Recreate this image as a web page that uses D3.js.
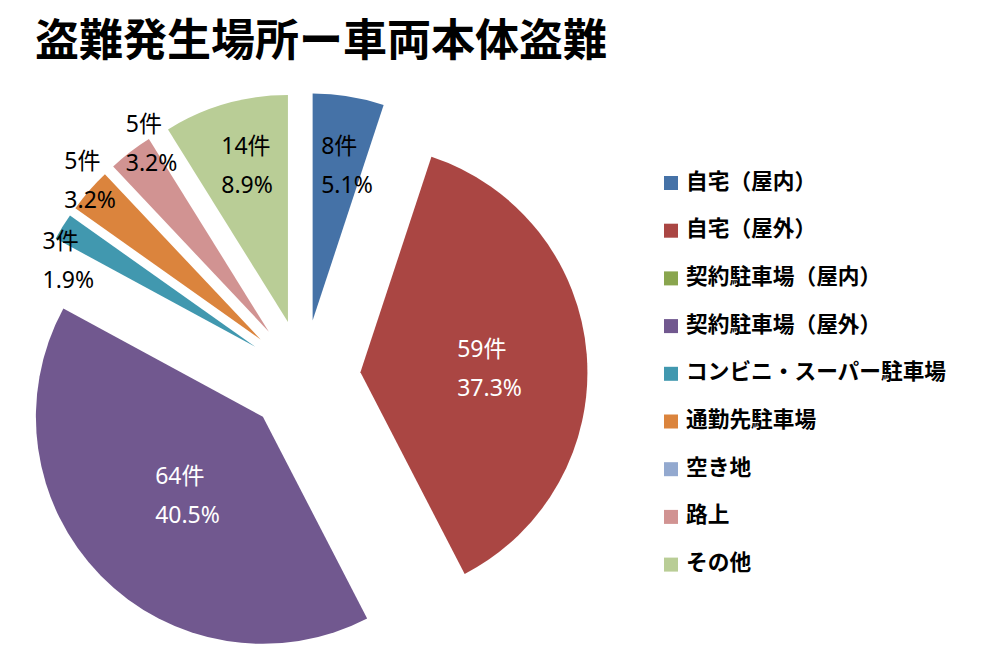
<!DOCTYPE html>
<html><head><meta charset="utf-8">
<script src="https://cdn.jsdelivr.net/npm/d3@7"></script>
<style>
html,body{margin:0;padding:0;background:#fff;}
svg{display:block;}
</style></head>
<body>
<svg id="chart" width="1000" height="666"></svg>
<script>
const title = "盗難発生場所ー車両本体盗難";
const categories = ["自宅（屋内）","自宅（屋外）","契約駐車場（屋内）","契約駐車場（屋外）","コンビニ・スーパー駐車場","通勤先駐車場","空き地","路上","その他"];
const counts = [8, 59, 0, 64, 3, 5, 0, 5, 14];
const percentLabels = ["5.1%","37.3%","0.0%","40.5%","1.9%","3.2%","0.0%","3.2%","8.9%"];
const colors = ["#4572A7","#AA4643","#89A54E","#71588F","#4198AF","#DB843D","#93A9CF","#D19392","#B9CD96"];

// layout config (not data)
const labelRadiusFactor = [0.95, 0.82, 0, 0.73, 1.157, 1.28, 0, 1.227, 0.965];
const labelAngleNudge = [2.5, 1.9, 0, -1.1, -5.5, 1.7, 0, 4.5, 1];
const labelWhite = [false, true, false, true, false, false, false, false, false];

const svg = d3.select("#chart");
const cx = 303.6, cy = 376.9, R = 227, explode = 57;

svg.append("text")
  .attr("x", 35).attr("y", 56)
  .attr("font-family", "'Noto Sans CJK JP', sans-serif")
  .attr("font-weight", "bold")
  .attr("font-size", 44)
  .attr("fill", "#000")
  .text(title);

const data = categories.map((c, i) => ({cat: c, v: counts[i], pct: percentLabels[i], i}));
const pie = d3.pie().value(d => d.v).sort(null).startAngle(0).endAngle(2*Math.PI);
const arcs = pie(data);
const arcGen = d3.arc().innerRadius(0).outerRadius(R);

const g = svg.append("g").attr("transform", `translate(${cx},${cy})`);

arcs.filter(a => a.data.v > 0).forEach(a => {
  const mid = (a.startAngle + a.endAngle) / 2;
  const dx = Math.sin(mid) * explode, dy = -Math.cos(mid) * explode;
  g.append("path")
    .attr("d", arcGen(a))
    .attr("transform", `translate(${dx},${dy})`)
    .attr("fill", colors[a.data.i]);
});

const fs = 23, lineGap = 39;
arcs.filter(a => a.data.v > 0).forEach(a => {
  const i = a.data.i;
  const mid = (a.startAngle + a.endAngle) / 2 + labelAngleNudge[i] * Math.PI / 180;
  const r = labelRadiusFactor[i] * R;
  const lx = Math.sin(mid) * r, ly = -Math.cos(mid) * r;
  const t = g.append("text")
    .attr("font-family", "'Noto Sans', 'Noto Sans CJK JP', sans-serif")
    .attr("font-size", fs)
    .attr("fill", labelWhite[i] ? "#fff" : "#000");
  const t1 = t.append("tspan").text(a.data.v + "件");
  const t2 = t.append("tspan").text(a.data.pct);
  const w = Math.max(t1.node().getComputedTextLength(), t2.node().getComputedTextLength());
  const left = lx - w / 2;
  const b1 = ly - lineGap / 2 + fs * 0.36;
  t1.attr("x", left).attr("y", b1);
  t2.attr("x", left).attr("y", b1 + lineGap);
});

// legend
const legend = svg.append("g");
const lgX = 664, lgY0 = 176, lgStep = 47.7;
categories.forEach((c, i) => {
  const y = lgY0 + i * lgStep;
  legend.append("rect").attr("x", lgX).attr("y", y).attr("width", 14).attr("height", 14).attr("fill", colors[i]);
  legend.append("text")
    .attr("x", 686).attr("y", y + 12.5)
    .attr("font-family", "'Noto Sans CJK JP', sans-serif")
    .attr("font-weight", "bold")
    .attr("font-size", 21.7)
    .attr("fill", "#000")
    .text(c);
});
</script>
</body></html>
